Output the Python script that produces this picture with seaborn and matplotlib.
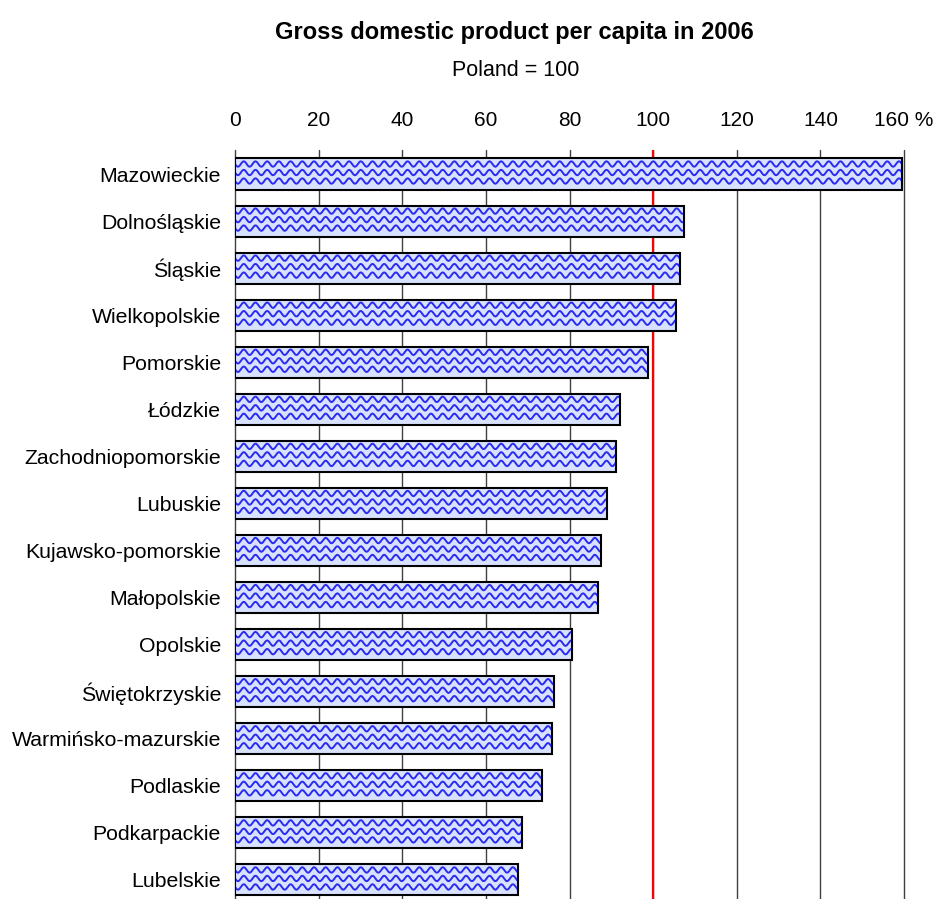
import numpy as np
import matplotlib
matplotlib.use("Agg")
import matplotlib.pyplot as plt
import matplotlib.patches as mpatches
import seaborn as sns

# data
regions = ["Mazowieckie", "Dolnośląskie", "Śląskie", "Wielkopolskie", "Pomorskie",
           "Łódzkie", "Zachodniopomorskie", "Lubuskie", "Kujawsko-pomorskie",
           "Małopolskie", "Opolskie", "Świętokrzyskie", "Warmińsko-mazurskie",
           "Podlaskie", "Podkarpackie", "Lubelskie"]
gdp = [159.6, 107.4, 106.5, 105.5, 98.8, 92.1, 91.1, 89.0, 87.6,
       86.8, 80.6, 76.3, 75.8, 73.4, 68.7, 67.7]
ticks = [0, 20, 40, 60, 80, 100, 120, 140, 160]
tick_labels = ["0", "20", "40", "60", "80", "100", "120", "140", "160 %"]

sns.set_style("white")
plt.rcParams["font.family"] = ["Liberation Sans", "DejaVu Sans"]
plt.rcParams["text.color"] = "black"
plt.rcParams["xtick.color"] = "black"
plt.rcParams["ytick.color"] = "black"

W, H = 948, 899
fig = plt.figure(figsize=(W / 100, H / 100), dpi=100)
ax = fig.add_axes([0.2479, -0.005, 0.7057, 0.8376])

sns.barplot(x=gdp, y=regions, orient="h", color="#d8e2ff", saturation=1,
            edgecolor="none", width=0.66, ax=ax)

ax.set_xlim(0, 160)
ax.set_ylim(len(regions) - 0.5, -0.5)
ax.set_axisbelow(True)
ax.grid(axis="x", color="#404040", lw=1)
ax.grid(axis="y", visible=False)
for gl in ax.get_xgridlines():
    gl.set_clip_on(False)
ax.axvline(100, color="#ff0000", lw=1.6, zorder=0.8)

# wavy fill pattern, clipped to each bar
ax_w = 0.7057 * W
ax_h = 0.8376 * H
ux = 160 / ax_w              # data units per pixel (x)
uy = len(regions) / ax_h     # data units per pixel (y)
period = 11.7 * ux
amp = 2.7 * uy
for p in list(ax.patches):
    x0, w = p.get_x(), p.get_width()
    yc = p.get_y() + p.get_height() / 2
    xs = np.linspace(x0, x0 + w, 800)
    for off in (-10.0, -1.5, 7.0):
        ys = yc + off * uy + amp * np.sin(2 * np.pi * xs / period)
        ln, = ax.plot(xs, ys, color="#2a2af0", lw=1.4, zorder=1.5)
        ln.set_clip_path(p)
    ax.add_patch(mpatches.Rectangle((x0, p.get_y()), w, p.get_height(),
                                    fill=False, ec="black", lw=1.5, zorder=2))

ax.xaxis.tick_top()
ax.set_xticks(ticks)
ax.set_xticklabels(tick_labels)
ax.tick_params(axis="x", length=0, pad=15, labelsize=15)
ax.tick_params(axis="y", length=0, pad=10, labelsize=15.3)
ax.set_xlabel("")
ax.set_ylabel("")
for s in ax.spines.values():
    s.set_visible(False)

fig.text(0.543, 1 - 32 / H, "Gross domestic product per capita in 2006",
         ha="center", va="center", fontsize=17, fontweight="bold")
fig.text(0.544, 1 - 71 / H, "Poland = 100", ha="center", va="center", fontsize=15.5)

fig.savefig("out.png", dpi=100)
